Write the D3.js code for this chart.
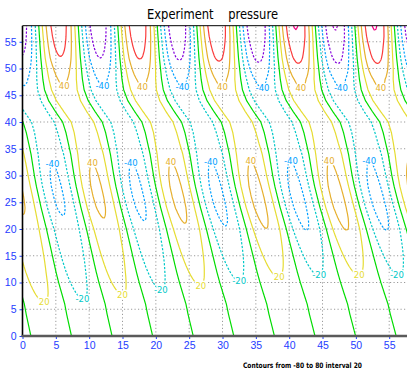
<!DOCTYPE html>
<html>
<head>
<meta charset="utf-8">
<script src="https://cdn.jsdelivr.net/npm/d3@7"></script>
<style>
  html, body { margin: 0; padding: 0; background: #fff; }
  svg { display: block; }
</style>
</head>
<body>
<svg id="chart" width="407" height="374"></svg>
<script>
// ---- field description, one entry per grid row (y) ----
const rowY = [0, 2, 4, 6, 8, 10, 12, 14, 16, 18, 20, 22, 24, 26, 28,
              30, 32, 34, 36, 38, 40, 42, 44, 46, 48, 50, 52, 54, 56, 58];
// x of the wave crest on the western side, and of the same crest four waves east
const crestWest = [4.3, 3.95, 3.6, 3.3, 2.85, 2.4, 2.0, 1.65, 1.3, 0.95,
                   0.6, 0.2, -0.2, -0.55, -0.9, -1.2, -1.45, -1.7, -2.05, -2.4,
                   -2.9, -4.0, -5.0, -5.6, -5.85, -6.0, -6.15, -6.25, -6.35, -6.45];
const crestEast = [53.0, 52.58, 52.15, 51.78, 51.25, 50.73, 50.26, 49.83, 49.41, 48.98,
                   48.56, 48.09, 47.61, 47.19, 46.79, 46.46, 46.19, 45.92, 45.55, 45.18,
                   44.66, 43.54, 42.52, 41.9, 41.63, 41.46, 41.29, 41.17, 41.06, 40.95];
// wave amplitude near the western and eastern sides
const ampWest = [8, 11.5, 15.5, 19.5, 23, 26, 28.5, 31, 33, 34.5,
                 36, 39, 42, 43.2, 43.3, 42.3, 40.3, 37.5, 35, 33,
                 32, 32.5, 34.5, 38, 43, 50, 59, 65, 69.5, 73];
const ampEast = [4, 6.5, 9, 11.5, 14.5, 17.5, 21.3, 25.5, 30, 35,
                 40.5, 43.5, 45.5, 46, 45.5, 43.5, 41, 38.5, 35, 33,
                 32, 33, 35.5, 39, 45, 56, 64.5, 71, 78, 81.5];
const ampRefX = [4, 42];

const levels      = [-80, -60, -40, -20, 0, 20, 40, 60, 80];
const levelColors = ["#a000c8", "#8200dc", "#00a0ff", "#00c8c8", "#00dc00",
                     "#e6dc32", "#e6af2d", "#fa3c3c", "#f00082"];
const labelLevels = [-40, -20, 20, 40];

const xTicks = [0, 5, 10, 15, 20, 25, 30, 35, 40, 45, 50, 55];
const yTicks = [0, 5, 10, 15, 20, 25, 30, 35, 40, 45, 50, 55];
const xDomain = [0, 58];
const yDomain = [0, 58];

const titleText = "Experiment    pressure";
const footText = "Contours from -80 to 80 interval 20";

// ---- layout ----
const svg = d3.select("#chart");
const x = d3.scaleLinear().domain(xDomain).range([22.5, 409.2]);
const y = d3.scaleLinear().domain(yDomain).range([336, 25.7]);

// ---- gridded field ----
const rowScale = arr => d3.scaleLinear().domain(rowY).range(arr).clamp(true);
const cW = rowScale(crestWest), cE = rowScale(crestEast);
const aW = rowScale(ampWest), aE = rowScale(ampEast);
const blend = d3.scaleLinear().domain(ampRefX).range([0, 1]).clamp(true);

function field(px, py) {
  const w0 = cW(py), w1 = cE(py);
  const period = (w1 - w0) / 4;
  const t = blend(px);
  const amp = aW(py) * (1 - t) + aE(py) * t;
  return amp * Math.cos(2 * Math.PI * (px - w0) / period);
}

const step = 0.25, gx0 = -0.5, gy0 = -0.5;
const nx = Math.round((xDomain[1] + 0.5 - gx0) / step) + 1;
const ny = Math.round((yDomain[1] + 0.5 - gy0) / step) + 1;
const values = new Float64Array(nx * ny);
for (let j = 0; j < ny; j++) {
  for (let i = 0; i < nx; i++) {
    values[j * nx + i] = field(gx0 + i * step, gy0 + j * step);
  }
}
const dataX = c => gx0 + (c - 0.5) * step;
const dataY = c => gy0 + (c - 0.5) * step;

const bands = d3.contours().size([nx, ny]).thresholds(levels)(values);

// break each ring into the pieces that lie off the grid border
function splitRing(ring) {
  const pts = ring.slice();
  const f = pts[0], l = pts[pts.length - 1];
  if (f[0] !== l[0] || f[1] !== l[1]) pts.push(f);
  const n = pts.length - 1;
  const onB = p => p[0] === 0 || p[0] === nx || p[1] === 0 || p[1] === ny;
  let start = -1;
  for (let i = 0; i < n; i++) if (onB(pts[i])) { start = i; break; }
  if (start < 0) return [{ pts, closed: true }];
  const pieces = [];
  let cur = null;
  for (let k = 0; k < n; k++) {
    const a = pts[(start + k) % n], b = pts[(start + k + 1) % n];
    if (onB(a) && onB(b)) { if (cur) { pieces.push(cur); cur = null; } continue; }
    if (!cur) cur = [a];
    cur.push(b);
  }
  if (cur) pieces.push(cur);
  return pieces.map(p => ({ pts: p, closed: false }));
}

const lines = [];
bands.forEach(b => {
  b.coordinates.forEach(poly => poly.forEach(ring => {
    splitRing(ring).forEach(piece => {
      lines.push({
        value: b.value,
        closed: piece.closed,
        pts: piece.pts.map(p => [dataX(p[0]), dataY(p[1])])
      });
    });
  }));
});

// ---- frame pieces ----
svg.append("defs").append("clipPath").attr("id", "plotClip")
  .append("rect")
  .attr("x", x(xDomain[0])).attr("y", y(yDomain[1]))
  .attr("width", x(xDomain[1]) - x(xDomain[0]))
  .attr("height", y(yDomain[0]) - y(yDomain[1]));

// dotted grid
const grid = svg.append("g").attr("stroke", "#9a9a9a").attr("stroke-width", 1)
  .attr("stroke-dasharray", "1.2,2.3").attr("fill", "none");
xTicks.filter(v => v > 0).forEach(v => {
  grid.append("line").attr("x1", x(v)).attr("x2", x(v))
    .attr("y1", y(yDomain[0])).attr("y2", y(yDomain[1]));
});
yTicks.filter(v => v > 0).forEach(v => {
  grid.append("line").attr("x1", x(xDomain[0])).attr("x2", x(xDomain[1]))
    .attr("y1", y(v)).attr("y2", y(v));
});

// contour lines
const colorOf = d3.scaleOrdinal().domain(levels).range(levelColors);
const lineGen = d3.line().x(p => x(p[0])).y(p => y(p[1]));
const cg = svg.append("g").attr("clip-path", "url(#plotClip)").attr("fill", "none");
lines.forEach(l => {
  cg.append("path")
    .attr("d", lineGen(l.pts) + (l.closed ? "Z" : ""))
    .attr("stroke", colorOf(l.value))
    .attr("stroke-width", 1.2)
    .attr("stroke-linejoin", "round")
    .attr("stroke-dasharray", l.value < 0 ? "2.2,1.6" : null);
});

// contour labels: lowest point of open lines, top of closed loops
const inside = p => p[0] >= xDomain[0] && p[0] <= xDomain[1] && p[1] >= yDomain[0] && p[1] <= yDomain[1];
const lg = svg.append("g").attr("font-family", "'DejaVu Sans', sans-serif")
  .attr("font-size", 8.5).attr("text-anchor", "middle");
lines.filter(l => labelLevels.includes(l.value)).forEach(l => {
  const pts = l.pts.filter(inside);
  if (pts.length < 4) return;
  let best;
  if (l.closed) best = d3.greatest(pts, p => p[1]);
  else best = d3.least(pts, p => p[1]);
  if (!l.closed && best[1] < 0.4) return;
  if (!l.closed && (best[0] < 0.3 || best[0] > xDomain[1] - 0.3)) return;
  const lx = Math.max(x(xDomain[0]) + 9, Math.min(397, x(best[0])));
  lg.append("text")
    .attr("x", lx).attr("y", y(best[1]))
    .attr("dy", "0.35em")
    .attr("fill", colorOf(l.value))
    .attr("stroke", "#fff").attr("stroke-width", 3)
    .attr("paint-order", "stroke")
    .text(String(l.value));
});

// axes
const tickColor = "#1e3cff";
const xAxis = svg.append("g").attr("transform", `translate(0,${y(0)})`)
  .call(d3.axisBottom(x).tickValues(xTicks).tickSize(3).tickPadding(3).tickFormat(d3.format("d")));
const yAxis = svg.append("g").attr("transform", `translate(${x(0)},0)`)
  .call(d3.axisLeft(y).tickValues(yTicks).tickSize(3).tickPadding(3).tickFormat(d3.format("d")));
[xAxis, yAxis].forEach(a => {
  a.select(".domain").remove();
  a.selectAll(".tick line").attr("stroke", tickColor);
  a.selectAll(".tick text").attr("fill", tickColor)
    .attr("font-family", "'Liberation Sans', Arial, sans-serif").attr("font-size", 10.5);
});

// frame lines
svg.append("line").attr("x1", x(0)).attr("x2", x(xDomain[1]))
  .attr("y1", y(yDomain[1])).attr("y2", y(yDomain[1]))
  .attr("stroke", "#000").attr("stroke-width", 1);
svg.append("line").attr("x1", x(0)).attr("x2", x(0))
  .attr("y1", y(yDomain[1])).attr("y2", y(0))
  .attr("stroke", "#000").attr("stroke-width", 1.6);
svg.append("line").attr("x1", x(0) - 1).attr("x2", x(xDomain[1]))
  .attr("y1", y(0)).attr("y2", y(0))
  .attr("stroke", "#5a5a5a").attr("stroke-width", 2.6);

// title and footnote
svg.append("text")
  .attr("x", 212.5).attr("y", 19)
  .attr("text-anchor", "middle")
  .attr("font-family", "'DejaVu Sans', sans-serif")
  .attr("font-size", 14)
  .attr("textLength", 131).attr("lengthAdjust", "spacingAndGlyphs")
  .style("white-space", "pre")
  .text(titleText);
svg.append("text")
  .attr("x", 302.5).attr("y", 368)
  .attr("text-anchor", "middle")
  .attr("font-family", "'DejaVu Sans', sans-serif")
  .attr("font-size", 7.5).attr("font-weight", "bold")
  .attr("textLength", 119).attr("lengthAdjust", "spacingAndGlyphs")
  .text(footText);
</script>
</body>
</html>
